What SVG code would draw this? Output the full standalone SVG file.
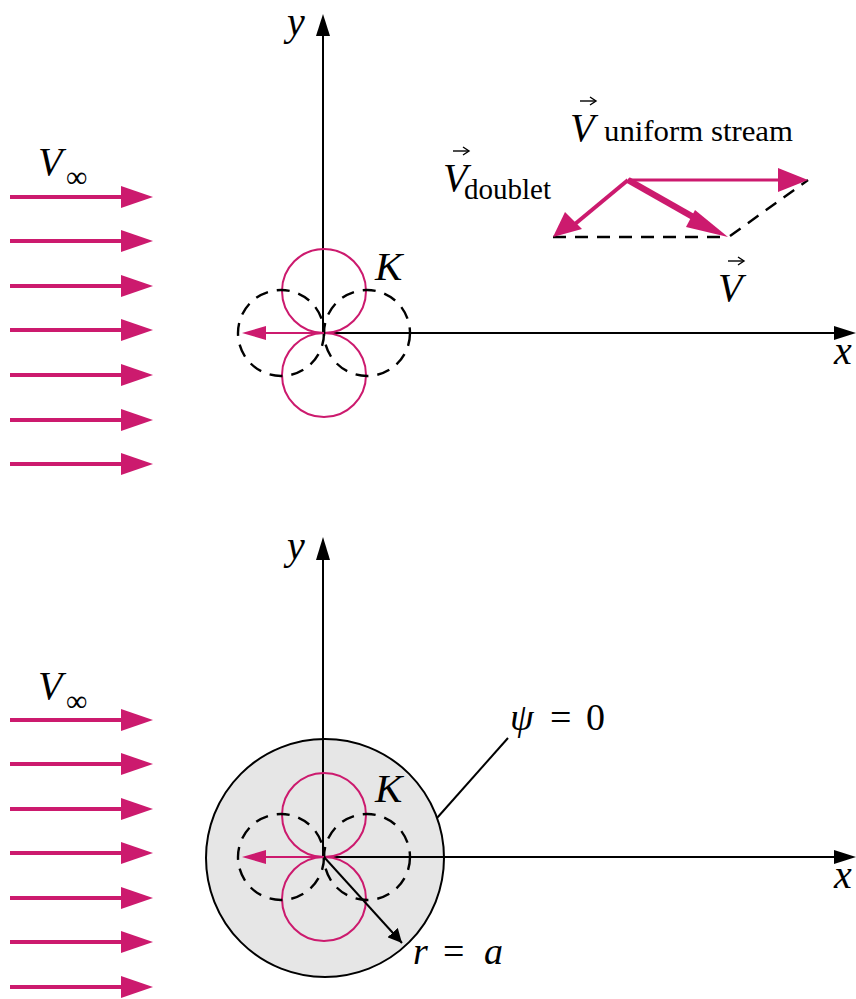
<svg xmlns="http://www.w3.org/2000/svg" width="856" height="999" viewBox="0 0 856 999">
<style>
.pk{stroke:#cc1a6e;fill:none}
.pkf{fill:#cc1a6e}
.ax{stroke:#000;stroke-width:2;fill:none}
.ds{stroke:#000;stroke-width:2.4;fill:none;stroke-dasharray:13 9}
text{font-family:"Liberation Serif","DejaVu Serif",serif;fill:#000}
.it{font-style:italic}
</style>
<defs>
<marker id="ha" markerWidth="14" markerHeight="14" refX="10" refY="5" orient="auto" markerUnits="userSpaceOnUse" viewBox="0 0 10 10"><path d="M0,0 L10,5 L0,10 Z" fill="#000"/></marker>
<g id="stream"><line x1="10" y1="0" x2="124" y2="0" stroke="#cc1a6e" stroke-width="4"/><path d="M121,-11 L153,0 L121,11 Z" fill="#cc1a6e"/></g>
<g id="doub"><circle cx="0" cy="-42" r="42" class="pk" stroke-width="2"/><circle cx="0" cy="42" r="42" class="pk" stroke-width="2"/><circle cx="-43" cy="0" r="43" class="ds"/><circle cx="43" cy="0" r="43" class="ds"/><line x1="0" y1="0" x2="-62" y2="0" stroke="#cc1a6e" stroke-width="2"/><path d="M-58,-7 L-82,0 L-58,7 Z" fill="#cc1a6e"/></g>
<g id="vbar"><line x1="0" y1="0" x2="15" y2="0" stroke="#000" stroke-width="1.4"/><path d="M10,-4 L16,0 L10,4" fill="none" stroke="#000" stroke-width="1.4"/></g>
</defs>

<g id="top-diagram">
<g id="top-stream">
<use href="#stream" y="197"/><use href="#stream" y="241"/><use href="#stream" y="286"/><use href="#stream" y="330"/><use href="#stream" y="375"/><use href="#stream" y="420"/><use href="#stream" y="464"/>
<text class="it" x="38" y="175" font-size="40">V</text><text x="66" y="187" font-size="30">∞</text>
</g>
<g id="top-axes">
<line class="ax" x1="323" y1="333" x2="323" y2="18"/><path d="M316,36 L323,14 L330,36 Z"/>
<line class="ax" x1="323" y1="333" x2="838" y2="333"/><path d="M834,326 L856,333 L834,340 Z"/>
<text class="it" x="287" y="35" font-size="40">y</text>
<text class="it" x="834" y="364" font-size="40">x</text>
</g>
<g id="top-doublet" transform="translate(324,333)"><use href="#doub"/></g>
<text class="it" x="375" y="280" font-size="41">K</text>
<g id="top-vectors">
<line class="ds" x1="553" y1="237" x2="728" y2="237"/>
<line class="ds" x1="730" y1="236" x2="808" y2="180"/>
<line x1="628" y1="180" x2="780" y2="180" stroke="#cc1a6e" stroke-width="3"/><path d="M778,168 L808,180 L778,192 Z" class="pkf"/>
<line x1="628" y1="180" x2="575" y2="224" stroke="#cc1a6e" stroke-width="4"/><path d="M565,212 L553,237 L582,229 Z" class="pkf"/>
<line x1="628" y1="180" x2="702" y2="222" stroke="#cc1a6e" stroke-width="6.5"/><path d="M695,210 L728,237 L686,227 Z" class="pkf"/>
<text class="it" x="570" y="141" font-size="40">V</text><use href="#vbar" x="580" y="101"/>
<text x="604" y="141" font-size="30" textLength="189" lengthAdjust="spacingAndGlyphs">uniform stream</text>
<text class="it" x="443" y="191" font-size="40">V</text><use href="#vbar" x="453" y="151"/>
<text x="464" y="199" font-size="30" textLength="87" lengthAdjust="spacingAndGlyphs">doublet</text>
<text class="it" x="718" y="301" font-size="40">V</text><use href="#vbar" x="728" y="261"/>
</g>
</g>

<g id="bottom-diagram">
<g id="bottom-stream">
<use href="#stream" y="720"/><use href="#stream" y="764"/><use href="#stream" y="809"/><use href="#stream" y="853"/><use href="#stream" y="898"/><use href="#stream" y="942"/><use href="#stream" y="987"/>
<text class="it" x="38" y="699" font-size="40">V</text><text x="66" y="711" font-size="30">∞</text>
</g>
<g id="cylinder"><circle cx="325" cy="858" r="119" fill="#e6e6e6" stroke="#000" stroke-width="2"/></g>
<g id="bottom-axes">
<line class="ax" x1="323" y1="857" x2="323" y2="540"/><path d="M316,560 L323,537 L330,560 Z"/>
<line class="ax" x1="323" y1="857" x2="838" y2="857"/><path d="M834,850 L856,857 L834,864 Z"/>
<text class="it" x="287" y="559" font-size="40">y</text>
<text class="it" x="834" y="888" font-size="40">x</text>
</g>
<g id="bottom-doublet" transform="translate(324,857)"><use href="#doub"/></g>
<text class="it" x="375" y="802" font-size="41">K</text>
<g id="radius"><line x1="324" y1="857" x2="402" y2="943" stroke="#000" stroke-width="2" marker-end="url(#ha)"/></g>
<text class="it" x="413" y="964" font-size="38">r</text><text x="443" y="964" font-size="38">=</text><text class="it" x="484" y="964" font-size="38">a</text>
<g id="psi-label">
<line x1="437" y1="818" x2="508" y2="738" stroke="#000" stroke-width="2"/>
<text class="it" x="510" y="730" font-size="38">ψ</text><text x="550" y="730" font-size="38">=</text><text x="586" y="730" font-size="38">0</text>
</g>
</g>
</svg>
